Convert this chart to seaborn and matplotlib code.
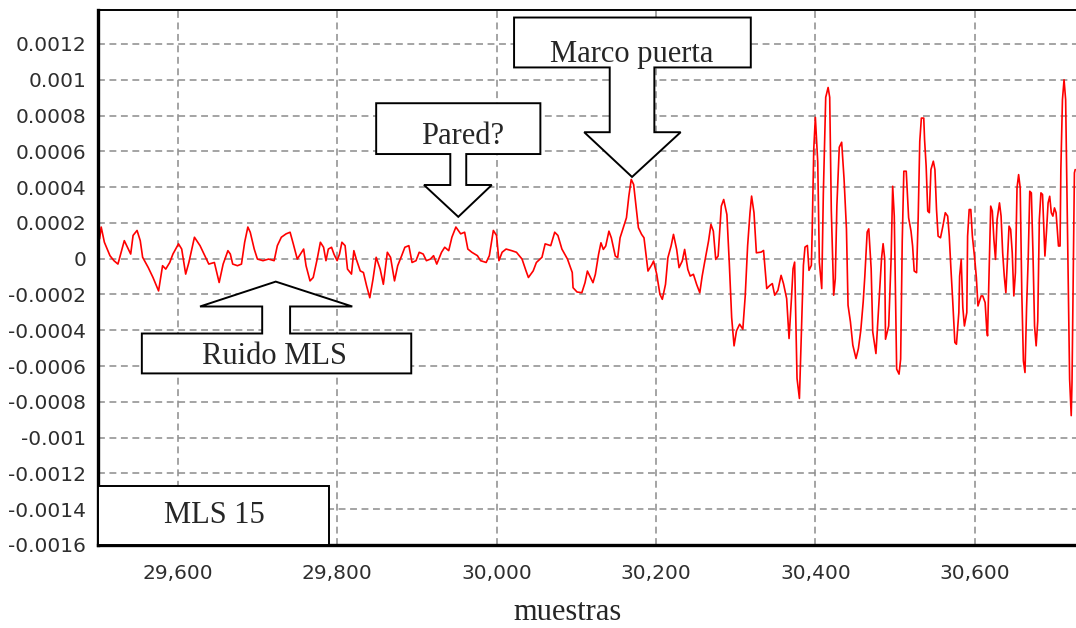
import numpy as np
import pandas as pd
import matplotlib
matplotlib.use("Agg")
import matplotlib.pyplot as plt
from matplotlib.patches import Polygon
from matplotlib.ticker import MultipleLocator
import seaborn as sns

# sample index / amplitude (units of 1e-4), in four stretches
x_ruido = [29502, 29504, 29508, 29515, 29520, 29525, 29529, 29533, 29538, 29541,
           29544, 29549, 29553, 29556, 29563, 29569, 29576, 29581, 29585, 29590,
           29594, 29601, 29605, 29610, 29614, 29621, 29628, 29635, 29639, 29646,
           29652, 29657, 29663, 29666, 29669, 29675, 29680, 29684, 29688, 29691,
           29696, 29700, 29707, 29714, 29721, 29725, 29730, 29736, 29741, 29745,
           29750, 29754, 29758, 29761, 29766, 29770, 29775, 29779, 29783, 29786,
           29789, 29793, 29796, 29800, 29803, 29806, 29810, 29813, 29818, 29821,
           29824, 29829, 29833, 29837, 29841, 29845, 29849, 29854, 29858, 29863,
           29867, 29872, 29876, 29881, 29885, 29890, 29894, 29899, 29903, 29908,
           29912, 29917, 29921, 29925, 29931, 29935, 29940, 29944, 29949, 29955,
           29960, 29964, 29969, 29976, 29980, 29987, 29991, 29996, 30000, 30003,
           30007, 30012, 30019, 30025, 30032, 30037, 30040, 30046, 30050, 30057,
           30061, 30068, 30073, 30077, 30082, 30089, 30095]
y_ruido = [1.11, 1.77, 0.92, 0.17, -0.11, -0.30, 0.36, 1.01, 0.54, 0.26,
           1.30, 1.58, 1.01, 0.08, -0.49, -1.05, -1.80, -0.39, -0.58, -0.21,
           0.26, 0.83, 0.54, -0.86, -0.21, 1.20, 0.73, 0.08, -0.30, -0.21,
           -1.33, -0.30, 0.45, 0.26, -0.30, -0.39, -0.30, 0.92, 1.77, 1.48,
           0.54, -0.02, -0.11, -0.02, -0.11, 0.73, 1.20, 1.39, 1.48, 0.83,
           -0.02, 0.26, 0.54, -0.39, -1.24, -1.05, -0.02, 0.92, 0.64, -0.11,
           0.54, 0.64, 0.26, -0.11, 0.26, 0.92, 0.73, -0.58, -0.86, 0.45,
           -0.02, -0.68, -0.77, -1.52, -2.18, -1.15, 0.08, -0.58, -1.43, 0.36,
           0.08, -1.24, -0.39, 0.17, 0.64, 0.73, -0.21, -0.11, 0.36, 0.26,
           -0.11, -0.02, 0.17, -0.30, 0.36, 0.64, 0.45, 1.20, 1.77, 1.39,
           1.48, 0.54, 0.36, 0.17, -0.11, -0.21, 0.17, 1.58, 1.30, -0.11,
           0.36, 0.54, 0.45, 0.36, -0.02, -0.68, -1.05, -0.68, -0.21, 0.08,
           0.83, 0.73, 1.48, 1.30, 0.54, -0.02, -0.77]

x_puerta = [30096, 30101, 30107, 30111, 30114, 30117, 30121, 30124, 30128, 30131,
            30134, 30137, 30141, 30144, 30149, 30152, 30155, 30159, 30163, 30166,
            30169, 30172, 30175, 30178, 30182, 30185, 30187, 30190, 30195, 30197,
            30201, 30205, 30208, 30212, 30215, 30219, 30222, 30226, 30229, 30233,
            30236, 30240, 30243, 30247, 30251, 30255, 30258, 30261, 30266, 30269,
            30272, 30275, 30278, 30282, 30285, 30289, 30292, 30295, 30298, 30301,
            30305, 30309, 30312, 30315, 30318, 30320, 30323, 30326]
y_puerta = [-1.62, -1.86, -1.90, -1.34, -0.69, -0.97, -1.34, -0.87, 0.24, 0.89,
            0.52, 0.71, 1.54, 1.17, 0.15, 0.06, 1.17, 1.73, 2.29, 3.50,
            4.43, 4.15, 2.94, 1.73, 1.36, 1.17, 0.43, -0.69, -0.32, -0.13,
            -0.87, -1.99, -2.27, -1.43, 0.06, 0.71, 1.36, 0.52, -0.50, -0.13,
            0.52, -0.60, -0.97, -0.87, -1.43, -1.90, -0.97, -0.22, 0.99, 1.92,
            1.54, -0.04, 0.15, 2.94, 3.31, 2.47, -0.22, -3.29, -4.87, -4.04,
            -3.66, -3.94, -2.08, 0.71, 2.57, 3.50, 2.57, 0.33]

x_eco1 = [30332, 30335, 30339, 30343, 30346, 30349, 30353, 30357, 30360, 30364,
          30367, 30370, 30372, 30374, 30377, 30380, 30382, 30385, 30387, 30390,
          30392, 30395, 30396, 30398, 30400, 30403, 30405, 30408, 30410, 30413,
          30416, 30418, 30420, 30423, 30425, 30427, 30430, 30433, 30436, 30439,
          30441, 30444, 30447, 30451, 30454, 30457, 30460, 30462, 30465, 30467,
          30470, 30472, 30476, 30480, 30483, 30485, 30487]
y_eco1 = [0.37, 0.46, -1.67, -1.49, -1.39, -2.04, -1.77, -0.93, -1.39, -2.23,
          -4.46, -2.23, -0.56, -0.19, -6.69, -7.81, -4.83, -0.37, 0.65, 0.74,
          -0.65, -0.37, 1.49, 6.13, 7.90, 5.39, -0.19, -1.67, 3.63, 9.02,
          9.57, 9.02, 2.70, -2.04, -1.12, 2.97, 6.23, 6.51, 4.46, 1.67,
          -2.60, -3.53, -4.83, -5.58, -5.02, -4.00, -2.42, -1.02, 1.49, 1.67,
          -0.56, -4.09, -5.30, -2.32, 0.0, 0.84, 0.0]

x_eco2 = [30488, 30492, 30495, 30497, 30499, 30502, 30505, 30507, 30509, 30511,
          30514, 30517, 30520, 30522, 30524, 30527, 30529, 30531, 30533, 30536,
          30537, 30539, 30541, 30543, 30545, 30548, 30550, 30552, 30554, 30557,
          30560, 30563, 30566, 30568, 30570, 30572, 30575, 30577, 30580, 30581,
          30583, 30585, 30587, 30590, 30591, 30593, 30595, 30597, 30600, 30602,
          30604, 30608, 30610, 30613, 30615, 30616, 30618, 30620, 30622, 30624,
          30626, 30628, 30631, 30633, 30635, 30637, 30639, 30641, 30643, 30645,
          30647, 30649, 30651, 30653, 30655, 30657, 30659, 30661, 30663, 30665,
          30667, 30669, 30671, 30673, 30675, 30677, 30679, 30681, 30683, 30685,
          30687, 30688, 30690, 30692, 30694, 30696, 30698, 30700, 30702, 30705,
          30707, 30708, 30710, 30712, 30714, 30717, 30719, 30721, 30722, 30725, 30726]
y_eco2 = [-4.50, -3.76, -0.04, 4.05, 2.38, -6.17, -6.45, -5.61, 0.99, 4.89,
          4.89, 2.29, 1.54, 0.71, -0.69, -0.78, 2.29, 6.56, 7.86, 7.86,
          6.66, 5.17, 2.66, 2.57, 4.98, 5.45, 4.98, 2.75, 1.26, 1.17,
          1.82, 2.57, 2.38, 1.26, -0.50, -2.08, -4.68, -4.78, -3.01, -0.97,
          -0.04, -2.73, -3.76, -3.01, 1.26, 2.75, 2.75, 1.26, -0.04, -1.06,
          -2.64, -2.08, -2.08, -2.45, -3.94, -4.31, -0.78, 2.94, 2.66, 1.08,
          -0.04, 2.19, 3.12, 2.38, 0.33, -0.97, -1.90, -0.04, 1.82, 1.64,
          0.33, -2.08, -0.78, 3.96, 4.70, 3.96, -1.90, -5.71, -6.36, -2.73,
          -0.04, 3.77, 3.68, 0.33, -3.76, -4.87, -3.48, 2.19, 3.68, 3.59,
          1.26, 0.15, 1.54, 3.12, 3.49, 2.57, 2.38, 2.84, 2.57, 0.71,
          0.71, 4.98, 8.89, 10.0, 8.89, -0.59, -6.73, -8.77, -6.92, 4.80, 4.98]

x_ticks = [29600, 29800, 30000, 30200, 30400, 30600]
y_ticks = [-0.0016, -0.0014, -0.0012, -0.001, -0.0008, -0.0006, -0.0004, -0.0002,
           0, 0.0002, 0.0004, 0.0006, 0.0008, 0.001, 0.0012]
y_labels = ["-0.0016", "-0.0014", "-0.0012", "-0.001", "-0.0008", "-0.0006", "-0.0004",
            "-0.0002", "0", "0.0002", "0.0004", "0.0006", "0.0008", "0.001", "0.0012"]

# callout shapes (sample, amplitude*1e4) and their labels
callouts = [
    ("Marco puerta", (30169, 10.97),
     [(30022, 13.48), (30319, 13.48), (30319, 10.69), (30198, 10.69), (30198, 7.07),
      (30231, 7.07), (30170, 4.57), (30110, 7.07), (30142, 7.07), (30142, 10.69),
      (30022, 10.69)]),
    ("Pared?", (29958, 6.41),
     [(29849, 8.69), (30055, 8.69), (30055, 5.85), (29962, 5.85), (29962, 4.12),
      (29994, 4.12), (29952, 2.34), (29909, 4.12), (29942, 4.12), (29942, 5.85),
      (29849, 5.85)]),
    ("Ruido MLS", (29721, -5.90),
     [(29555, -4.18), (29706, -4.18), (29706, -2.67), (29628, -2.67), (29723, -1.28),
      (29819, -2.67), (29741, -2.67), (29741, -4.18), (29893, -4.18), (29893, -6.41),
      (29555, -6.41)]),
    ("MLS 15", (29646, -14.76),
     [(29500, -12.7), (29790, -12.7), (29790, -16.0), (29500, -16.0)]),
]

sns.set_style("white")
plt.rcParams["font.family"] = ["DejaVu Sans"]

df = pd.DataFrame({
    "muestra": np.concatenate([x_ruido, x_puerta, x_eco1, x_eco2]),
    "amplitud": np.concatenate([y_ruido, y_puerta, y_eco1, y_eco2]) * 1e-4,
})

fig = plt.figure(figsize=(10.76, 6.28), dpi=100)
ax = fig.add_axes([98 / 1076, 83 / 628, 978 / 1076, 535 / 628])

sns.lineplot(data=df, x="muestra", y="amplitud", ax=ax, color="#ff0000", lw=1.2,
             sort=False, estimator=None)

ax.set_xlim(29500, 30727)
ax.set_ylim(-0.0016, 0.00139)
ax.set_xticks(x_ticks)
ax.set_xticklabels([f"{t:,}" for t in x_ticks])
ax.set_yticks(y_ticks)
ax.set_yticklabels(y_labels)
ax.xaxis.set_minor_locator(MultipleLocator(50))
ax.yaxis.set_minor_locator(MultipleLocator(0.00005))
ax.set_xlabel("")
ax.set_ylabel("")

ax.set_axisbelow(True)
ax.grid(True, which="major", color="#8c8c8c", ls=(0, (4.5, 3)), lw=1.1)

ax.spines["right"].set_visible(False)
for side, lw in [("left", 2.4), ("bottom", 2.4), ("top", 1.4)]:
    ax.spines[side].set_color("black")
    ax.spines[side].set_linewidth(lw)

ax.tick_params(axis="y", which="major", direction="inout", length=7, width=1.2,
               color="#606060", labelsize=14.5, labelcolor="#2e2e2e", pad=5)
ax.tick_params(axis="x", which="major", direction="out", length=7, width=1.2,
               color="#606060", labelsize=14.5, labelcolor="#2e2e2e", pad=7)
ax.tick_params(axis="y", which="minor", direction="inout", length=3, width=1, color="#909090")
ax.tick_params(axis="x", which="minor", direction="out", length=4, width=1, color="#909090")

for label, (tx, ty), verts in callouts:
    pts = [(vx, vy * 1e-4) for vx, vy in verts]
    ax.add_patch(Polygon(pts, closed=True, facecolor="white", edgecolor="black",
                         lw=1.4, zorder=5, clip_on=False))
    ax.text(tx, ty * 1e-4, label, ha="center", va="baseline", fontsize=22,
            family="Liberation Serif", zorder=6)

fig.text(568 / 1076, 1 / 628, "muestras", ha="center", va="bottom", fontsize=22,
         family="Liberation Serif")

fig.savefig("out.png", dpi=100)
